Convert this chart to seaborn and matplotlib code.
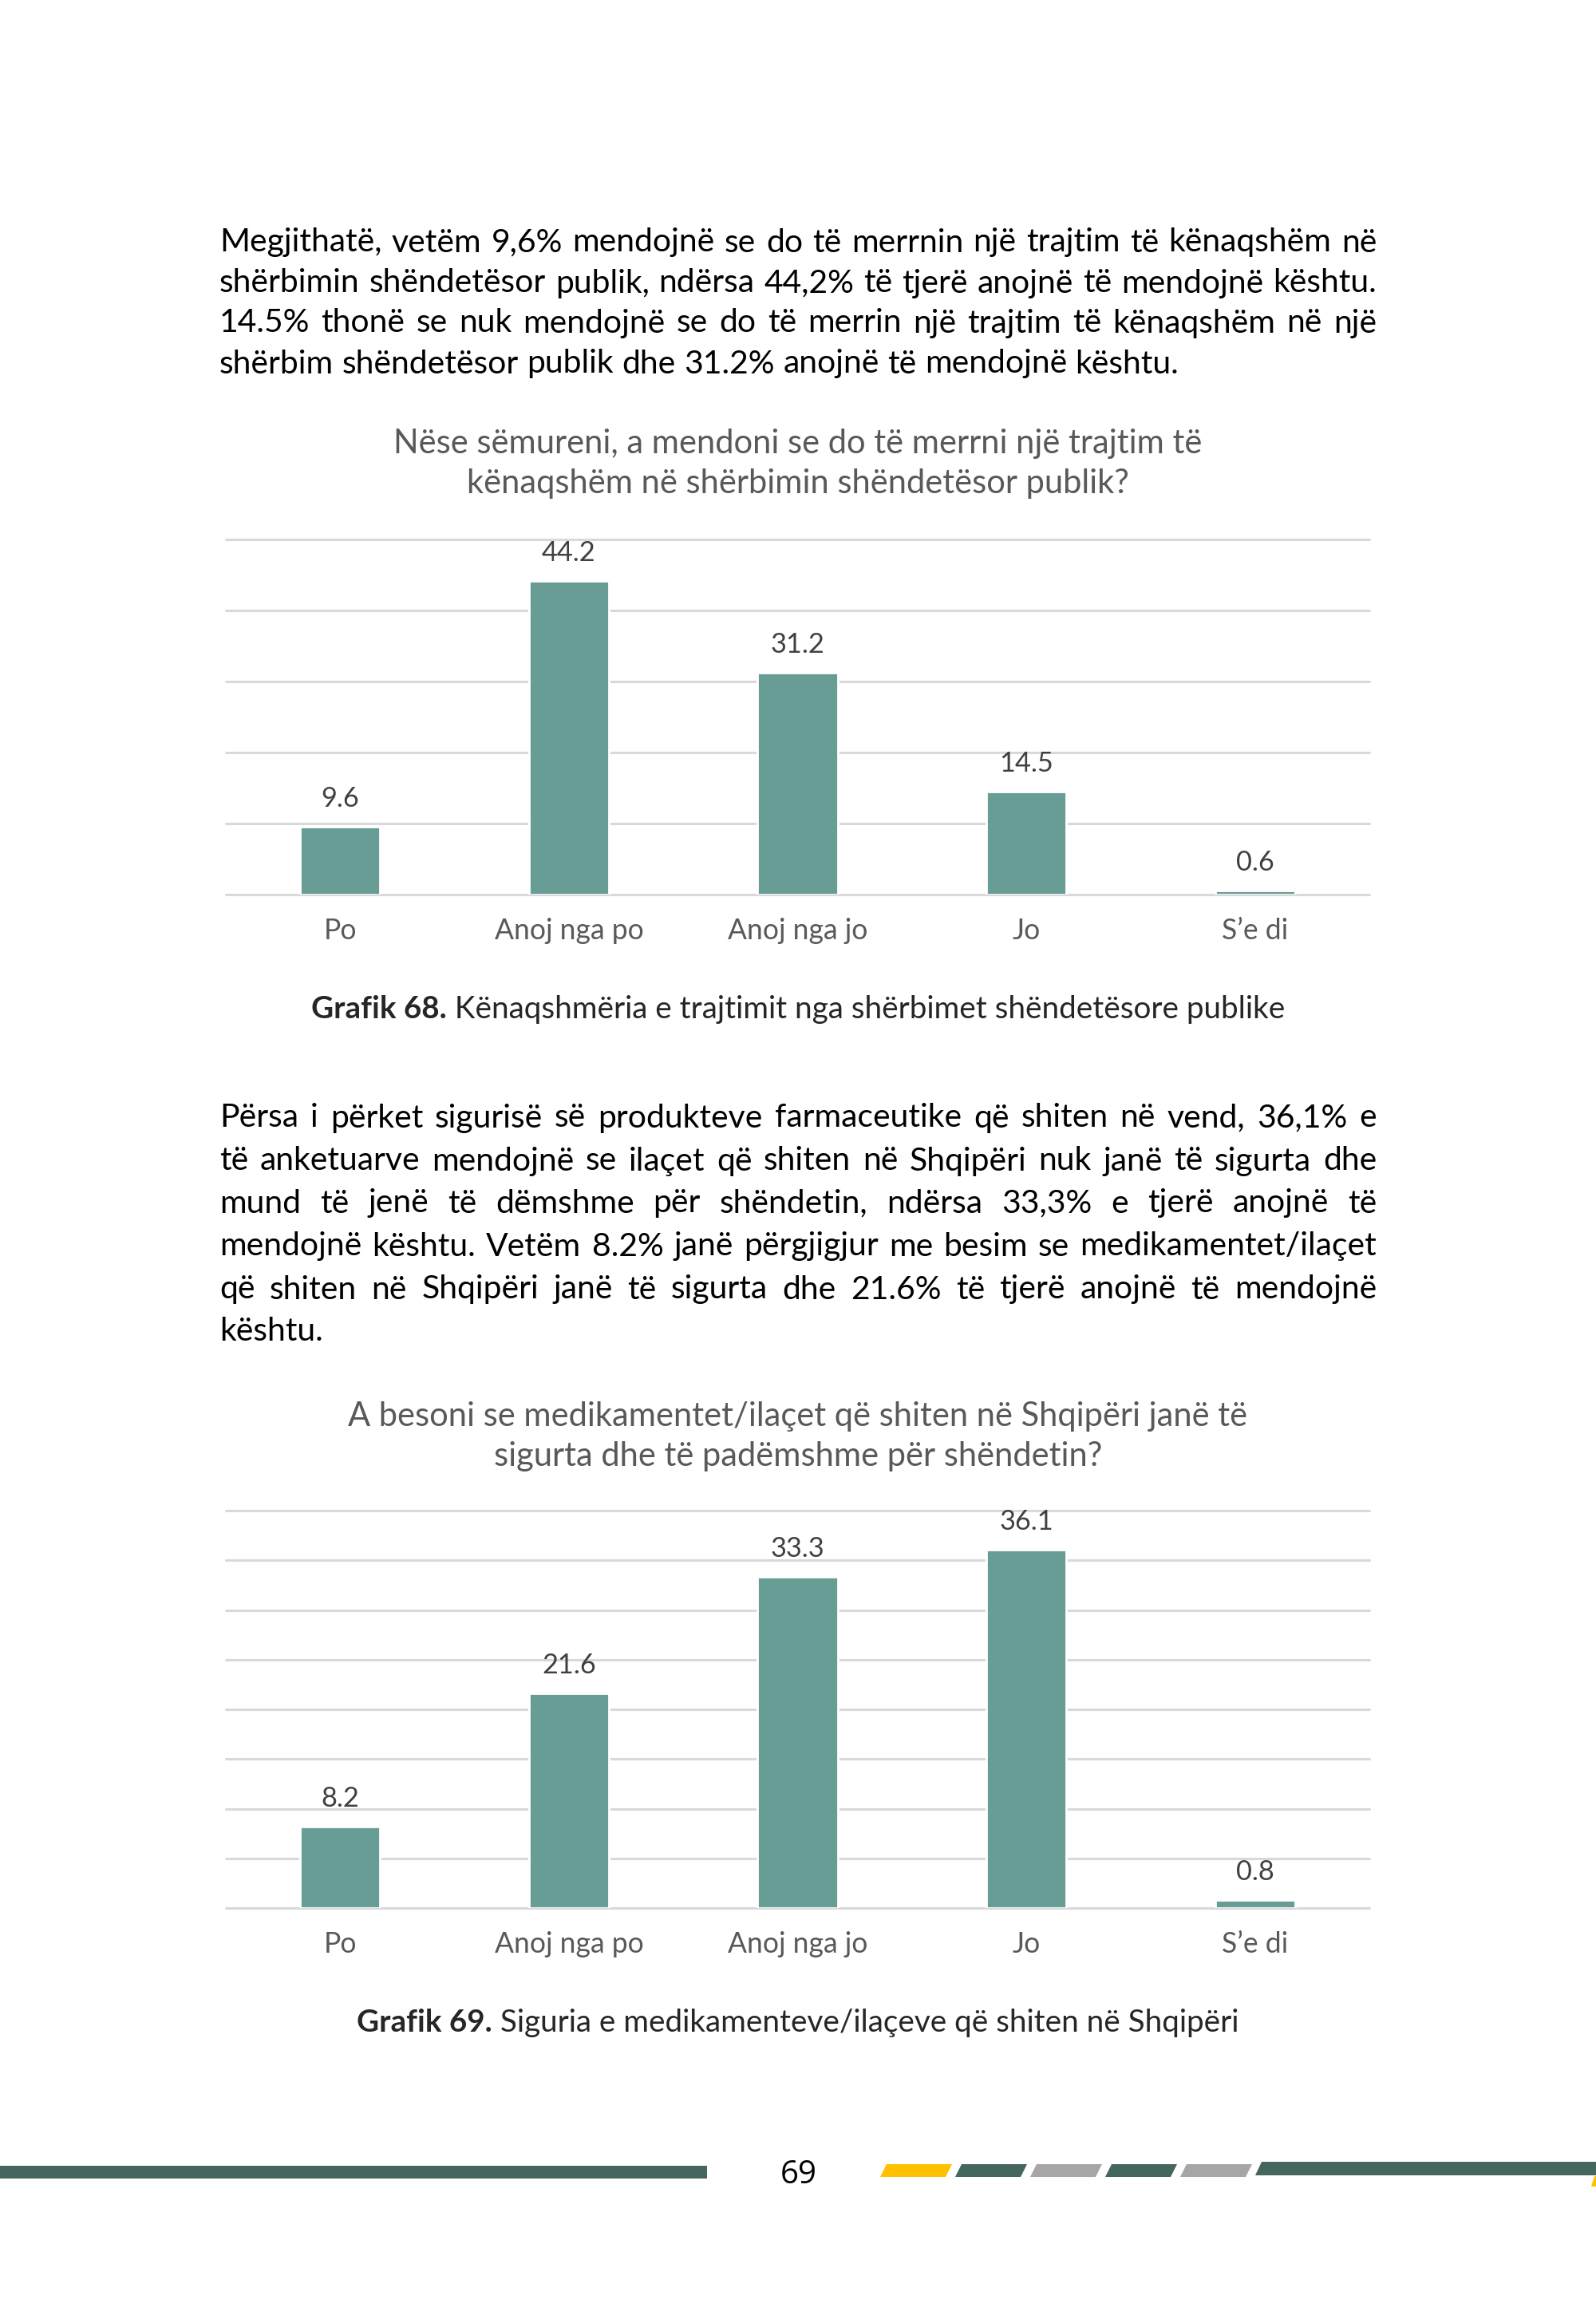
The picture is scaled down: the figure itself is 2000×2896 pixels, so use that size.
import matplotlib
matplotlib.use('Agg')
import matplotlib.pyplot as plt
from matplotlib.patches import Polygon, Rectangle
import seaborn as sns
import pandas as pd

# data
categories = ['Po', 'Anoj nga po', 'Anoj nga jo', 'Jo', 'S\u2019e di']
values_68 = [9.6, 44.2, 31.2, 14.5, 0.6]
values_69 = [8.2, 21.6, 33.3, 36.1, 0.8]

title_68 = ['Nëse sëmureni, a mendoni se do të merrni një trajtim të',
            'kënaqshëm në shërbimin shëndetësor publik?']
title_69 = ['A besoni se medikamentet/ilaçet që shiten në Shqipëri janë të',
            'sigurta dhe të padëmshme për shëndetin?']
caption_68 = ('Grafik 68.', ' Kënaqshmëria e trajtimit nga shërbimet shëndetësore publike')
caption_69 = ('Grafik 69.', ' Siguria e medikamenteve/ilaçeve që shiten në Shqipëri')

para_1 = ['Megjithatë, vetëm 9,6% mendojnë se do të merrnin një trajtim të kënaqshëm në',
          'shërbimin shëndetësor publik, ndërsa 44,2% të tjerë anojnë të mendojnë kështu.',
          '14.5% thonë se nuk mendojnë se do të merrin një trajtim të kënaqshëm në një',
          'shërbim shëndetësor publik dhe 31.2% anojnë të mendojnë kështu.']
para_2 = ['Përsa i përket sigurisë së produkteve farmaceutike që shiten në vend, 36,1% e',
          'të anketuarve mendojnë se ilaçet që shiten në Shqipëri nuk janë të sigurta dhe',
          'mund të jenë të dëmshme për shëndetin, ndërsa 33,3% e tjerë anojnë të',
          'mendojnë kështu. Vetëm 8.2% janë përgjigjur me besim se medikamentet/ilaçet',
          'që shiten në Shqipëri janë të sigurta dhe 21.6% të tjerë anojnë të mendojnë',
          'kështu.']
page_number = '69'

BAR = '#689d96'
GRID = '#d9d9d9'
GREY = '#595959'
DARK = '#44665f'
FONT = 'Lato'

sns.set_style('white')
plt.rcParams['font.family'] = [FONT, 'DejaVu Sans']

fig = plt.figure(figsize=(10, 14.48), dpi=200)
W, H = 2000, 2896
LEFT, RIGHT = 275, 1725

# overlay in pixel coords for page text and footer
page = fig.add_axes([0, 0, 1, 1], zorder=0)
page.set_xlim(0, W)
page.set_ylim(H, 0)
page.axis('off')

fig.canvas.draw()
rend = fig.canvas.get_renderer()


def width_of(t):
    return t.get_window_extent(rend).width


def natural_width(s, size):
    t = page.text(0, 0, s, fontsize=size)
    w = width_of(t)
    t.remove()
    return w


# body size: the widest full line just fits the column
full_lines = para_1[:-1] + para_2[:2] + para_2[3:-1]
body_size = 10 * (RIGHT - LEFT) / max(natural_width(s, 10) for s in full_lines) * 0.995


def justify(lines, ys, size):
    gap_plain = natural_width('a a', size) - natural_width('aa', size)
    for k, (line, y) in enumerate(zip(lines, ys)):
        words = line.split()
        objs = [page.text(0, y, w, fontsize=size, color='black', va='center', ha='left')
                for w in words]
        ws = [width_of(o) for o in objs]
        if k == len(lines) - 1 or len(words) == 1:
            gap = gap_plain
        else:
            gap = (RIGHT - LEFT - sum(ws)) / (len(words) - 1)
        x = LEFT
        for o, w in zip(objs, ws):
            o.set_x(x)
            x += w + gap


def caption(parts, y, cx=1000, size=13.9):
    b = page.text(0, y, parts[0], fontsize=size, fontweight='bold', va='center', ha='left')
    r = page.text(0, y, parts[1], fontsize=size, va='center', ha='left')
    wb, wr = width_of(b), width_of(r)
    x0 = cx - (wb + wr) / 2
    b.set_x(x0)
    r.set_x(x0 + wb)


def bar_chart(rect, vals, top, step, title, title_ys):
    ax = fig.add_axes(rect, zorder=2)
    ax.set_facecolor('none')
    df = pd.DataFrame({'cat': categories, 'val': vals})
    sns.barplot(data=df, x='cat', y='val', color=BAR, width=0.35, saturation=1, ax=ax)
    ax.set_xlim(-0.5, 4.5)
    ax.set_ylim(0, top)
    ax.set_yticks(range(0, top + 1, step))
    ax.yaxis.grid(True, color=GRID, lw=1.1)
    ax.set_axisbelow(True)
    for g in ax.get_ygridlines():
        g.set_clip_on(False)
    ax.tick_params(axis='y', left=False, labelleft=False)
    ax.tick_params(axis='x', length=0, pad=10.5, labelsize=12.8, labelcolor=GREY)
    ax.set_xlabel('')
    ax.set_ylabel('')
    sns.despine(ax=ax, left=True, bottom=True)
    for i, v in enumerate(vals):
        ax.annotate(f'{v:.1f}', (i, v), xytext=(0, 12.6), textcoords='offset points',
                    ha='center', va='center', fontsize=12.4, color='#404040')
    for line, y in zip(title, title_ys):
        page.text(1000, y, line, fontsize=15, color=GREY, ha='center', va='center')
    return ax


justify(para_1, [304, 355, 405, 456], body_size)
justify(para_2, [1401, 1455, 1508, 1562, 1616, 1669], body_size)

bar_chart([283 / W, 1 - 1121 / H, 1433 / W, 445 / H], values_68, 50, 10, title_68, [556, 606])
caption(caption_68, 1265)

bar_chart([283 / W, 1 - 2391 / H, 1433 / W, 498 / H], values_69, 40, 5, title_69, [1775, 1825])
caption(caption_69, 2535)

# footer
page.add_patch(Rectangle((0, 2714), 886, 16, color=DARK, lw=0))
para_cols = ['#ffc000', DARK, '#a6a6a6', DARK, '#a6a6a6']
for x0, c in zip([1103, 1197, 1291, 1385, 1479], para_cols):
    page.add_patch(Polygon([(x0, 2728), (x0 + 82, 2728), (x0 + 90, 2712), (x0 + 8, 2712)],
                           closed=True, color=c, lw=0))
page.add_patch(Polygon([(1573, 2726), (2000, 2726), (2000, 2709), (1581, 2709)],
                       closed=True, color=DARK, lw=0))
page.add_patch(Polygon([(1994, 2740), (2000, 2740), (2000, 2727), (1998, 2727)],
                       closed=True, color='#ffc000', lw=0))
page.text(1001, 2726, page_number, fontsize=14.5, family='Open Sans', color='black',
          ha='center', va='center')

fig.savefig('out.png', dpi=200, facecolor='white')
